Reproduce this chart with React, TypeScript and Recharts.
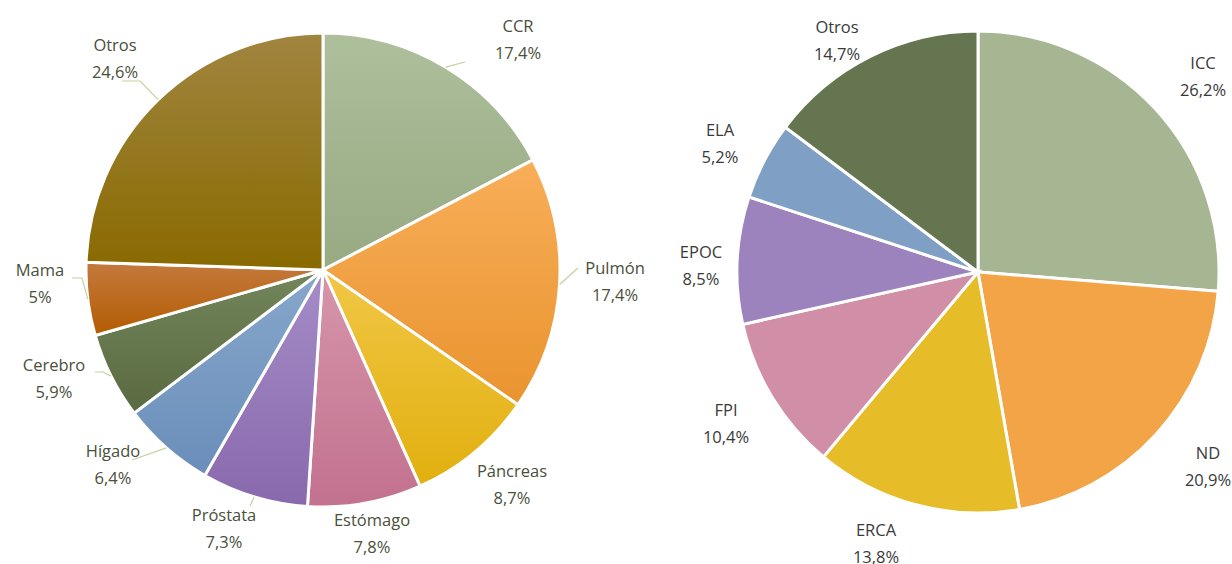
import { PieChart, Pie, Cell } from "recharts";

// Cáncer (izquierda)
const LEFT_NAMES = ["CCR", "Pulmón", "Páncreas", "Estómago", "Próstata", "Hígado", "Cerebro", "Mama", "Otros"];
const LEFT_VALUES = [17.4, 17.4, 8.7, 7.8, 7.3, 6.4, 5.9, 5, 24.6];

// No cáncer (derecha)
const RIGHT_NAMES = ["ICC", "ND", "ERCA", "FPI", "EPOC", "ELA", "Otros"];
const RIGHT_VALUES = [26.2, 20.9, 13.8, 10.4, 8.5, 5.2, 14.7];

const leftData = LEFT_NAMES.map((name, i) => ({ name, value: LEFT_VALUES[i] }));
const rightData = RIGHT_NAMES.map((name, i) => ({ name, value: RIGHT_VALUES[i] }));

const LEFT_GRAD = [
  ["#aebf9c", "#97aa82"],
  ["#f8ae58", "#e9942f"],
  ["#f1c746", "#e1af0e"],
  ["#d696ab", "#c2718e"],
  ["#a58cc7", "#8969ad"],
  ["#87a7cb", "#6a8eba"],
  ["#73855a", "#596a41"],
  ["#c47a3e", "#b35b00"],
  ["#a1853f", "#896a00"],
];
const RIGHT_COLORS = ["#a6b592", "#f2a447", "#e6bc29", "#d08fa6", "#9c83be", "#7f9fc5", "#65754f"];

// label centre, relative to pie centre
const LEFT_LABEL_POS = [
  [195, -231], [292, 11], [189, 214], [49, 263], [-99, 258],
  [-210, 194], [-269, 108], [-283, 13], [-208, -212],
];
const RIGHT_LABEL_POS = [
  [225, -196], [230, 194], [-102, 271], [-252, 151], [-277, -7], [-258, -129], [-141, -232],
];
// leader line points after the arc point (relative to centre)
const LEFT_LEADERS: (number[][] | null)[] = [
  [[142, -208]],
  [[255, -2]],
  null,
  null,
  [[-73, 236]],
  [[-191, 190]],
  [[-220, 102], [-228, 102]],
  [[-241, 8], [-251, 8]],
  [[-183, -189], [-201, -189]],
];

const RAD = Math.PI / 180;
const fmt = (v: number) => String(v).replace(".", ",") + "%";

function makeLabel(names: string[], pos: number[][], leaders: (number[][] | null)[] | null, color: string) {
  return (props: any) => {
    const { cx, cy, midAngle, outerRadius, index, value } = props;
    const [dx, dy] = pos[index];
    const x = cx + dx;
    const y = cy + dy;
    const lead = leaders ? leaders[index] : null;
    let path = "";
    if (lead) {
      const sx = cx + outerRadius * Math.cos(-midAngle * RAD);
      const sy = cy + outerRadius * Math.sin(-midAngle * RAD);
      path = `M${sx},${sy}` + lead.map((p) => `L${cx + p[0]},${cy + p[1]}`).join("");
    }
    return (
      <g key={`l-${index}`}>
        {lead && <path d={path} stroke="#c5d19f" strokeWidth={1.2} fill="none" />}
        <text
          x={x}
          y={y}
          textAnchor="middle"
          fill={color}
          fontSize={16.5}
          fontFamily="'Open Sans', sans-serif"
        >
          <tspan x={x} dy={-7.5}>{names[index]}</tspan>
          <tspan x={x} dy={27}>{fmt(value)}</tspan>
        </text>
      </g>
    );
  };
}

export default function App() {
  return (
    <div style={{ position: "absolute", left: 0, top: 0, width: 1232, height: 564, background: "#ffffff" }}>
      <PieChart width={1232} height={564} margin={{ top: 0, right: 0, bottom: 0, left: 0 }}>
        <defs>
          {LEFT_GRAD.map((g, i) => (
            <linearGradient key={i} id={`lg${i}`} x1="0" y1="0" x2="0" y2="1">
              <stop offset="0%" stopColor={g[0]} />
              <stop offset="100%" stopColor={g[1]} />
            </linearGradient>
          ))}
        </defs>
        <Pie
          data={leftData}
          dataKey="value"
          nameKey="name"
          cx={323}
          cy={270}
          outerRadius={237}
          startAngle={90}
          endAngle={-270}
          stroke="#ffffff"
          strokeWidth={3}
          labelLine={false}
          label={makeLabel(LEFT_NAMES, LEFT_LABEL_POS, LEFT_LEADERS, "#4a503a")}
          isAnimationActive={false}
        >
          {leftData.map((_, i) => (
            <Cell key={i} fill={`url(#lg${i})`} />
          ))}
        </Pie>
        <Pie
          data={rightData}
          dataKey="value"
          nameKey="name"
          cx={978}
          cy={272}
          outerRadius={241}
          startAngle={90}
          endAngle={-270}
          stroke="#ffffff"
          strokeWidth={3}
          labelLine={false}
          label={makeLabel(RIGHT_NAMES, RIGHT_LABEL_POS, null, "#3a3a3a")}
          isAnimationActive={false}
        >
          {rightData.map((_, i) => (
            <Cell key={i} fill={RIGHT_COLORS[i]} />
          ))}
        </Pie>
      </PieChart>
    </div>
  );
}
